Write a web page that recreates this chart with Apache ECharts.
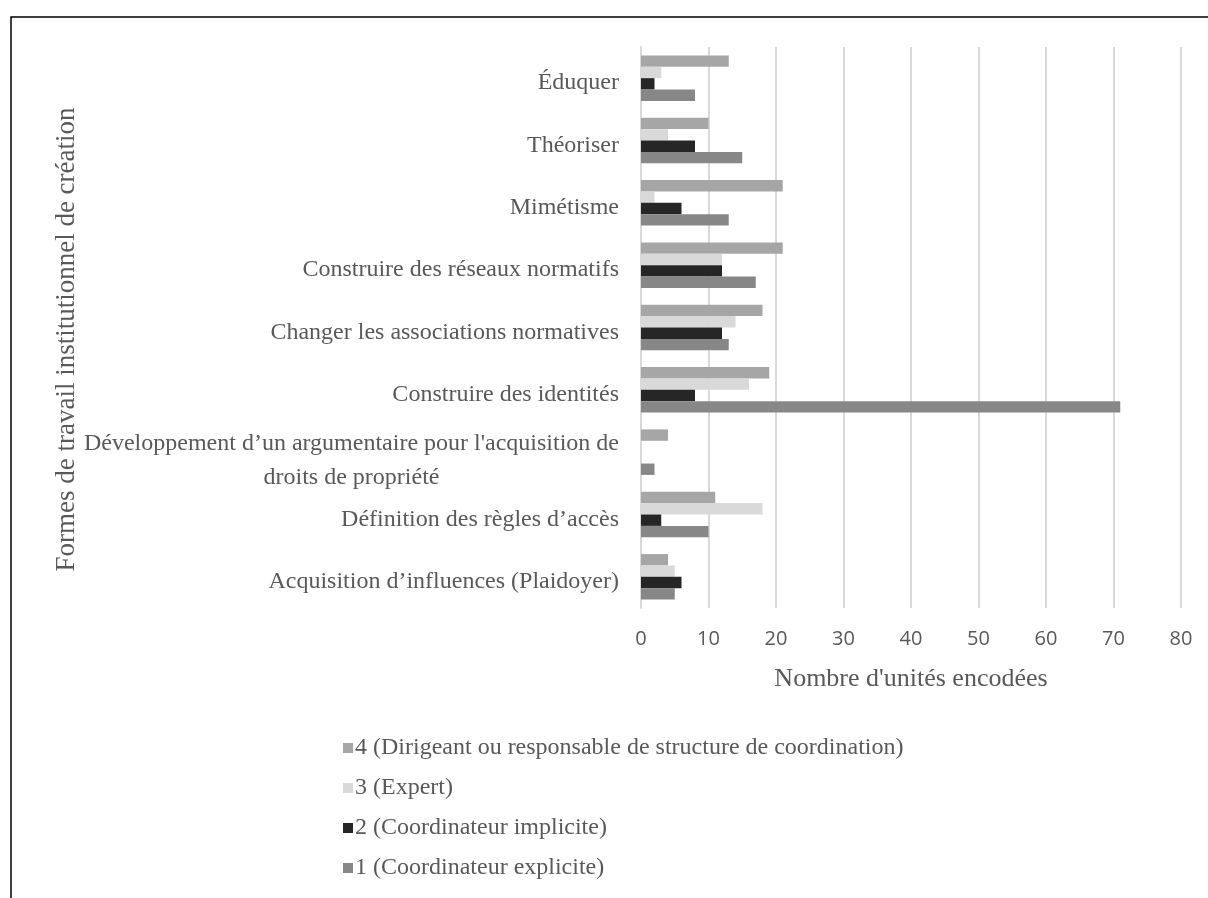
<!DOCTYPE html>
<html>
<head>
<meta charset="utf-8">
<script src="https://cdn.jsdelivr.net/npm/echarts@6/dist/echarts.min.js"></script>
<style>
  html, body { margin: 0; padding: 0; background: #fff; }
  #chart { width: 1208px; height: 898px; }
</style>
</head>
<body>
<div id="chart"></div>
<script>
// categories, bottom to top
var categories = [
    'Acquisition d\u2019influences (Plaidoyer)',
    'Définition des règles d\u2019accès',
    'Développement d\u2019un argumentaire pour l\'acquisition de\ndroits de propriété',
    'Construire des identités',
    'Changer les associations normatives',
    'Construire des réseaux normatifs',
    'Mimétisme',
    'Théoriser',
    'Éduquer'
];

// top bar of each group first
var seriesNames = [
    '4 (Dirigeant ou responsable de structure de coordination)',
    '3 (Expert)',
    '2 (Coordinateur implicite)',
    '1 (Coordinateur explicite)'
];

var dirigeant = [4, 11, 4, 19, 18, 21, 21, 10, 13];
var expert = [5, 18, 0, 16, 14, 12, 2, 4, 3];
var implicite = [6, 3, 0, 8, 12, 12, 6, 8, 2];
var explicite = [5, 10, 2, 71, 13, 17, 13, 15, 8];

var xTicks = [0, 10, 20, 30, 40, 50, 60, 70, 80];

var colors = ['#a6a6a6', '#d9d9d9', '#262626', '#878787'];
var values = [dirigeant, expert, implicite, explicite];

var serif = '"Liberation Serif", "DejaVu Serif", serif';
var textColor = '#595959';

// two-line label pushed a little down, like the original
function catLabel(v) {
    var parts = v.split('\n');
    if (parts.length === 1) return v;
    return '{s| }\n{a|' + parts[0] + '}\n{b|' + parts[1] + '}';
}

var chart = echarts.init(document.getElementById('chart'));

var series = [];
for (var i = 0; i < seriesNames.length; i++) {
    series.push({
        name: seriesNames[i],
        type: 'bar',
        data: values[i],
        barGap: '0%',
        barCategoryGap: '27%',
        itemStyle: { color: colors[i] }
    });
}

chart.setOption({
    animation: false,
    textStyle: { fontFamily: serif },
    grid: { left: 641, right: 27, top: 47, bottom: 290 },
    graphic: [{
        type: 'rect',
        shape: { x: 11, y: 17, width: 1210, height: 900 },
        style: { fill: 'none', stroke: '#000', lineWidth: 1.5 },
        silent: true
    }],
    legend: {
        orient: 'vertical',
        left: 338,
        top: 731,
        data: seriesNames,
        itemWidth: 10,
        itemHeight: 10,
        itemGap: 16,
        icon: 'rect',
        textStyle: { fontFamily: serif, fontSize: 24, lineHeight: 24, color: textColor, padding: [0, 0, 0, -3] }
    },
    xAxis: {
        type: 'value',
        min: xTicks[0],
        max: xTicks[xTicks.length - 1],
        interval: 10,
        name: 'Nombre d\'unités encodées',
        nameLocation: 'middle',
        nameGap: 58,
        nameTextStyle: { fontFamily: serif, fontSize: 26, color: textColor },
        axisLine: { show: false },
        axisTick: { show: false },
        axisLabel: { fontFamily: '"Open Sans", sans-serif', fontSize: 20, color: textColor, margin: 21 },
        splitLine: { lineStyle: { color: '#d9d9d9', width: 2 } }
    },
    yAxis: {
        type: 'category',
        data: categories,
        name: 'Formes de travail institutionnel de création',
        nameLocation: 'middle',
        nameGap: 560,
        nameTextStyle: { fontFamily: serif, fontSize: 27, color: textColor, padding: [0, 24, 0, 0] },
        axisLine: { lineStyle: { color: '#d9d9d9', width: 2 } },
        axisTick: { show: false },
        axisLabel: {
            fontFamily: serif,
            fontSize: 24,
            color: textColor,
            margin: 22,
            lineHeight: 34,
            padding: [10, 0, 0, 0],
            formatter: catLabel,
            rich: {
                s: { fontSize: 4, lineHeight: 8 },
                a: { fontFamily: serif, fontSize: 24, color: textColor, lineHeight: 34 },
                b: { fontFamily: serif, fontSize: 24, color: textColor, lineHeight: 34, width: 534, align: 'center' }
            }
        }
    },
    series: series
});
</script>
</body>
</html>
